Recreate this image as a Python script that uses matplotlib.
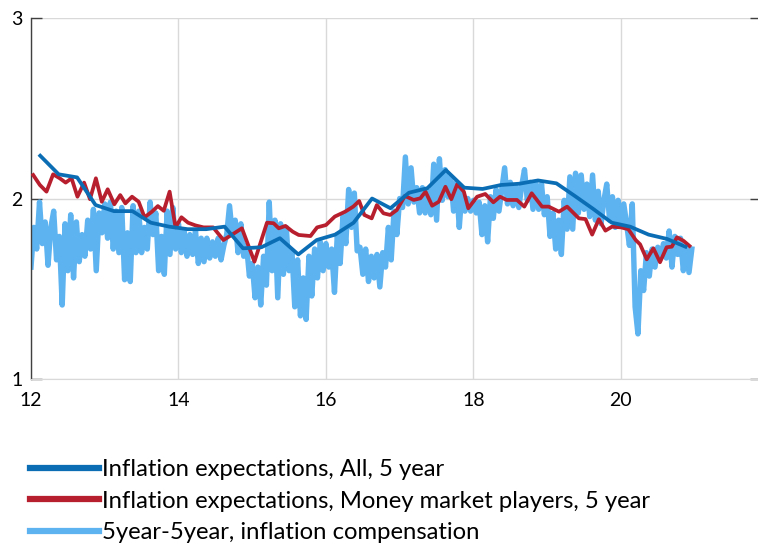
import numpy as np
import matplotlib
matplotlib.use("Agg")
import matplotlib.pyplot as plt

plt.rcParams['font.family'] = ['Lato', 'DejaVu Sans']

# ---- Data ----
# Inflation expectations, All, 5 year (quarterly)
all_x = [12.125, 12.375, 12.625, 12.875, 13.125, 13.375, 13.625, 13.875,
         14.125, 14.375, 14.625, 14.875, 15.125, 15.375, 15.625, 15.875,
         16.125, 16.375, 16.625, 16.875, 17.125, 17.375, 17.625, 17.875,
         18.125, 18.375, 18.625, 18.875, 19.125, 19.375, 19.625, 19.875,
         20.125, 20.375, 20.625, 20.875]
all_y = [2.237, 2.134, 2.117, 1.964, 1.930, 1.930, 1.866, 1.844,
         1.830, 1.830, 1.844, 1.724, 1.730, 1.780, 1.690, 1.770,
         1.800, 1.866, 2.000, 1.946, 2.032, 2.057, 2.158, 2.060,
         2.053, 2.075, 2.082, 2.100, 2.084, 2.014, 1.942, 1.866,
         1.844, 1.800, 1.776, 1.733]

# Inflation expectations, Money market players, 5 year
mm_x = [12.03, 12.12, 12.21, 12.30, 12.39, 12.47, 12.55, 12.63, 12.72, 12.80,
        12.88, 12.96, 13.04, 13.13, 13.21, 13.28, 13.37, 13.46, 13.54, 13.64,
        13.72, 13.80, 13.88, 13.96, 14.04, 14.13, 14.23, 14.34, 14.47, 14.61,
        14.72, 14.86, 15.03, 15.20, 15.29, 15.36, 15.45, 15.55, 15.63, 15.79,
        15.88, 16.00, 16.12, 16.26, 16.37, 16.45, 16.52, 16.62, 16.69, 16.78,
        16.87, 16.96, 17.07, 17.19, 17.28, 17.35, 17.44, 17.53, 17.62, 17.70,
        17.78, 17.87, 17.93, 18.05, 18.16, 18.27, 18.36, 18.45, 18.59, 18.69,
        18.79, 18.93, 19.02, 19.16, 19.27, 19.43, 19.52, 19.61, 19.70, 19.79,
        19.88, 20.00, 20.10, 20.20, 20.26, 20.35, 20.44, 20.53, 20.62, 20.69,
        20.76, 20.85, 20.93]
mm_y = [2.130, 2.075, 2.038, 2.134, 2.112, 2.088, 2.112, 2.010, 2.088, 1.996,
        2.112, 1.982, 2.051, 1.968, 2.019, 1.973, 2.010, 1.982, 1.896, 1.927,
        1.958, 1.932, 2.038, 1.840, 1.896, 1.866, 1.851, 1.840, 1.840, 1.770,
        1.798, 1.835, 1.650, 1.866, 1.863, 1.835, 1.848, 1.816, 1.798, 1.792,
        1.840, 1.853, 1.900, 1.927, 1.955, 1.986, 1.909, 1.890, 1.964, 1.918,
        1.909, 1.936, 2.014, 1.992, 2.001, 2.038, 1.960, 1.982, 2.065, 1.996,
        2.079, 2.038, 1.946, 2.010, 2.025, 1.979, 2.010, 1.992, 1.992, 1.955,
        2.029, 1.955, 1.955, 1.927, 1.955, 1.890, 1.886, 1.800, 1.885, 1.822,
        1.844, 1.840, 1.830, 1.770, 1.746, 1.663, 1.724, 1.647, 1.730, 1.733,
        1.785, 1.765, 1.737]

# 5year-5year inflation compensation (bi-weekly readings, 26 per year from 2012)
comp_y = [
    # 2012
    1.62, 1.84, 1.72, 1.98, 1.75, 1.87, 1.63, 1.84, 1.93, 1.66, 1.79, 1.41, 1.86,
    1.60, 1.91, 1.56, 1.87, 1.65, 1.80, 1.68, 1.88, 1.72, 1.94, 1.60, 1.92, 1.81,
    # 2013
    1.97, 1.78, 1.98, 1.72, 1.93, 1.70, 1.95, 1.55, 1.81, 1.54, 1.96, 1.70, 1.93,
    1.70, 1.84, 1.72, 1.98, 1.80, 1.92, 1.60, 1.79, 1.58, 1.93, 1.69, 1.95, 1.72,
    # 2014
    1.86, 1.70, 1.82, 1.68, 1.80, 1.69, 1.82, 1.64, 1.78, 1.65, 1.78, 1.67, 1.76,
    1.68, 1.78, 1.66, 1.74, 1.80, 1.96, 1.80, 1.88, 1.70, 1.86, 1.68, 1.74, 1.57,
    # 2015
    1.64, 1.45, 1.62, 1.41, 1.68, 1.52, 1.98, 1.60, 1.88, 1.45, 1.86, 1.58, 1.84,
    1.60, 1.71, 1.40, 1.66, 1.35, 1.56, 1.33, 1.68, 1.46, 1.72, 1.56, 1.76, 1.60,
    # 2016
    1.75, 1.62, 1.72, 1.48, 1.80, 1.64, 1.90, 1.75, 2.05, 1.84, 2.03, 1.71, 1.73,
    1.58, 1.72, 1.54, 1.68, 1.56, 1.69, 1.51, 1.70, 1.62, 1.84, 1.66, 1.93, 1.80,
    # 2017
    2.00, 1.95, 2.23, 1.97, 2.17, 1.98, 2.06, 1.92, 2.06, 1.92, 2.04, 1.91, 2.19,
    1.88, 2.22, 1.99, 2.16, 2.01, 2.12, 1.93, 2.09, 1.84, 2.05, 1.93, 2.00, 1.93,
    # 2018
    1.99, 1.92, 1.98, 1.80, 1.96, 1.76, 2.01, 1.89, 2.05, 1.93, 2.05, 2.17, 1.97,
    2.09, 1.96, 2.07, 1.95, 2.07, 2.16, 1.99, 2.09, 1.94, 2.09, 1.94, 2.08, 1.91,
    # 2019
    2.01, 1.79, 1.92, 1.72, 1.88, 1.69, 1.99, 1.83, 2.12, 1.83, 2.14, 1.92, 2.13,
    1.94, 2.08, 1.90, 2.13, 1.88, 2.04, 1.86, 1.99, 2.08, 1.88, 2.01, 1.84, 1.99,
    # 2020
    1.86, 1.97, 1.86, 1.74, 1.97, 1.40, 1.25, 1.60, 1.49, 1.70, 1.57, 1.72, 1.62,
    1.73, 1.67, 1.75, 1.67, 1.82, 1.62, 1.79, 1.69, 1.78, 1.60, 1.73, 1.59, 1.72,
]
comp_x = 12 + np.arange(len(comp_y)) / 26.0

labels = ["Inflation expectations, All, 5 year",
          "Inflation expectations, Money market players, 5 year",
          "5year-5year, inflation compensation"]
x_ticks = [12, 14, 16, 18, 20]
x_ticklabels = ["12", "14", "16", "18", "20"]
y_ticks = [1, 2, 3]

c_all = "#0B6EB5"
c_mm = "#B81F2E"
c_comp = "#5DB3F0"

# ---- Figure ----
fig = plt.figure(figsize=(7.58, 5.46), dpi=100)
ax = fig.add_axes([31 / 758, 1 - 379 / 546, 1 - 31 / 758 + 0.004, (379 - 18) / 546])

l3, = ax.plot(comp_x, comp_y, color=c_comp, lw=3.9, solid_joinstyle='round', zorder=2)
l2, = ax.plot(mm_x, mm_y, color=c_mm, lw=2.7, zorder=3)
l1, = ax.plot(all_x, all_y, color=c_all, lw=2.7, zorder=4)

ax.set_xlim(12, 21.9)
ax.set_ylim(1, 3)
ax.set_xticks(x_ticks)
ax.set_xticklabels(x_ticklabels)
ax.set_yticks(y_ticks)

ax.grid(True, color="#D9D9D9", lw=1.0)
ax.set_axisbelow(True)
for s in ["top", "right"]:
    ax.spines[s].set_visible(False)
ax.spines["bottom"].set_color("#D9D9D9")
ax.spines["left"].set_color("#404040")
ax.spines["left"].set_linewidth(1.0)

ax.tick_params(axis="x", length=0, pad=9, labelsize=14, colors="black")
ax.tick_params(axis="y", direction="in", length=8, width=1, color="#404040",
               pad=6, labelsize=14, right=True)

fig.legend([l1, l2, l3], labels, loc="upper left",
           bbox_to_anchor=(30 / 758, 1 - 459 / 546), frameon=False,
           fontsize=17.2, handlelength=2.9, handletextpad=0.12,
           labelspacing=0.44, borderpad=0, borderaxespad=0)
for h in fig.legends[0].legend_handles:
    h.set_linewidth(4.5)

fig.savefig("out.png", dpi=100)
